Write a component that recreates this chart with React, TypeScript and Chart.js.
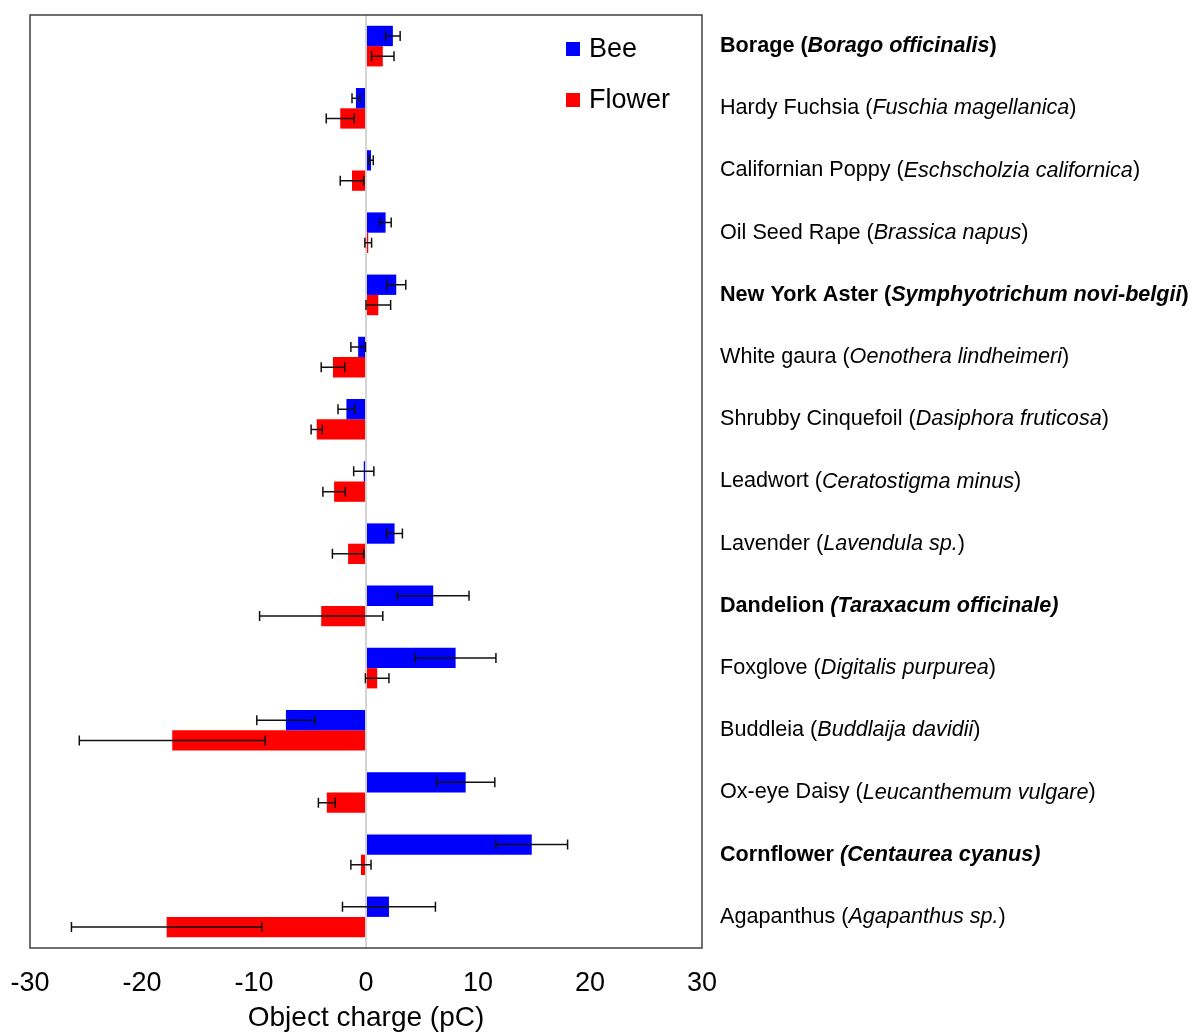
import React, { useEffect, useRef } from "react";
import { Chart, registerables } from "chart.js";

Chart.register(...registerables);

const commonNames = [
  "Borage", "Hardy Fuchsia", "Californian Poppy", "Oil Seed Rape", "New York Aster",
  "White gaura", "Shrubby Cinquefoil", "Leadwort", "Lavender", "Dandelion",
  "Foxglove", "Buddleia", "Ox-eye Daisy", "Cornflower", "Agapanthus",
];
const latinNames = [
  "Borago officinalis", "Fuschia magellanica", "Eschscholzia californica", "Brassica napus",
  "Symphyotrichum novi-belgii", "Oenothera lindheimeri", "Dasiphora fruticosa",
  "Ceratostigma minus", "Lavendula sp.", "Taraxacum officinale", "Digitalis purpurea",
  "Buddlaija davidii", "Leucanthemum vulgare", "Centaurea cyanus", "Agapanthus sp.",
];
const boldLabels = [true, false, false, false, true, false, false, false, false, true, false, false, false, true, false];
const italicParens = [false, false, false, false, false, false, false, false, false, true, false, false, false, true, false];

const beeValues = [2.4, -0.9, 0.45, 1.75, 2.7, -0.7, -1.75, -0.2, 2.55, 6.0, 8.0, -7.15, 8.9, 14.8, 2.05];
const beeErrors = [0.65, 0.35, 0.2, 0.5, 0.85, 0.65, 0.75, 0.9, 0.7, 3.2, 3.6, 2.6, 2.6, 3.2, 4.15];
const flowerValues = [1.5, -2.3, -1.25, 0.2, 1.1, -2.95, -4.4, -2.85, -1.6, -4.0, 1.0, -17.3, -3.5, -0.45, -17.8];
const flowerErrors = [1.0, 1.25, 1.05, 0.3, 1.1, 1.05, 0.5, 1.0, 1.4, 5.5, 1.05, 8.3, 0.75, 0.9, 8.5];

const seriesNames = ["Bee", "Flower"];
const seriesColors = ["#0000FF", "#FF0000"];
const xTicks = [-30, -20, -10, 0, 10, 20, 30];
const xTitle = "Object charge (pC)";

const FONT = '"Liberation Sans", Arial, sans-serif';

const errorBarPlugin = {
  id: "errorBars",
  afterDatasetsDraw(chart: any) {
    const ctx = chart.ctx;
    const xScale = chart.scales.x;
    const errs = [beeErrors, flowerErrors];
    const vals = [beeValues, flowerValues];
    ctx.save();
    ctx.strokeStyle = "#111111";
    ctx.lineWidth = 1.5;
    chart.data.datasets.forEach((_: any, di: number) => {
      const meta = chart.getDatasetMeta(di);
      meta.data.forEach((el: any, i: number) => {
        const y = el.y;
        const x1 = xScale.getPixelForValue(vals[di][i] - errs[di][i]);
        const x2 = xScale.getPixelForValue(vals[di][i] + errs[di][i]);
        ctx.beginPath();
        ctx.moveTo(x1, y);
        ctx.lineTo(x2, y);
        ctx.moveTo(x1, y - 5);
        ctx.lineTo(x1, y + 5);
        ctx.moveTo(x2, y - 5);
        ctx.lineTo(x2, y + 5);
        ctx.stroke();
      });
    });
    ctx.restore();
  },
};

const decorPlugin = {
  id: "decor",
  afterDraw(chart: any) {
    const ctx = chart.ctx;
    const area = chart.chartArea;
    const yScale = chart.scales.y;
    ctx.save();
    // border
    ctx.strokeStyle = "#404040";
    ctx.lineWidth = 1.5;
    ctx.strokeRect(area.left, area.top, area.right - area.left, area.bottom - area.top);

    // legend
    const legendY = [49, 100];
    seriesNames.forEach((name, i) => {
      ctx.fillStyle = seriesColors[i];
      ctx.fillRect(566, legendY[i] - 7, 14, 14);
      ctx.fillStyle = "#000";
      ctx.font = `27px ${FONT}`;
      ctx.textBaseline = "middle";
      ctx.textAlign = "left";
      ctx.fillText(name, 589, legendY[i] + 1);
    });

    // right-side labels
    ctx.textBaseline = "middle";
    ctx.textAlign = "left";
    ctx.fillStyle = "#000";
    commonNames.forEach((name, i) => {
      const y = yScale.getPixelForValue(i);
      const w = boldLabels[i] ? "bold " : "";
      const segs: { t: string; it: boolean }[] = italicParens[i]
        ? [
            { t: name + " ", it: false },
            { t: "(" + latinNames[i] + ")", it: true },
          ]
        : [
            { t: name + " (", it: false },
            { t: latinNames[i], it: true },
            { t: ")", it: false },
          ];
      let x = 720;
      segs.forEach((s) => {
        ctx.font = `${s.it ? "italic " : ""}${w}21.6px ${FONT}`;
        ctx.fillText(s.t, x, y);
        x += ctx.measureText(s.t).width;
      });
    });
    ctx.restore();
  },
};

export default function App() {
  const ref = useRef<HTMLCanvasElement>(null);
  useEffect(() => {
    if (!ref.current) return;
    const chart = new Chart(ref.current, {
      type: "bar",
      data: {
        labels: commonNames,
        datasets: [
          {
            label: seriesNames[0],
            data: beeValues,
            backgroundColor: seriesColors[0],
            categoryPercentage: 0.653,
            barPercentage: 1.0,
          },
          {
            label: seriesNames[1],
            data: flowerValues,
            backgroundColor: seriesColors[1],
            categoryPercentage: 0.653,
            barPercentage: 1.0,
          },
        ],
      },
      options: {
        indexAxis: "y",
        animation: false,
        responsive: false,
        layout: { padding: { left: 30, right: 496, top: 15, bottom: 0 } },
        plugins: { legend: { display: false }, tooltip: { enabled: false } },
        scales: {
          x: {
            type: "linear",
            min: xTicks[0],
            max: xTicks[xTicks.length - 1],
            afterBuildTicks: (scale: any) => {
              scale.ticks = xTicks.map((v) => ({ value: v }));
            },
            afterFit: (scale: any) => {
              scale.height = 86;
              scale.paddingLeft = 0;
              scale.paddingRight = 0;
            },
            border: { display: false },
            grid: {
              drawTicks: false,
              color: (c: any) => (c.tick && c.tick.value === 0 ? "#d4d4d4" : "rgba(0,0,0,0)"),
              lineWidth: 2,
            },
            ticks: {
              padding: 19,
              color: "#000",
              font: { family: FONT, size: 27 },
              callback: (v: any) => String(v),
            },
            title: {
              display: true,
              text: xTitle,
              color: "#000",
              font: { family: FONT, size: 28, lineHeight: 1.1 },
              padding: { top: 0, bottom: 0 },
            },
          },
          y: {
            type: "category",
            display: false,
            offset: true,
            grid: { display: false },
          },
        },
      },
      plugins: [errorBarPlugin, decorPlugin],
    });
    return () => chart.destroy();
  }, []);
  return (
    <div style={{ position: "absolute", left: 0, top: 0, width: 1198, height: 1034 }}>
      <canvas ref={ref} width={1198} height={1034} style={{ width: 1198, height: 1034, display: "block" }} />
    </div>
  );
}
